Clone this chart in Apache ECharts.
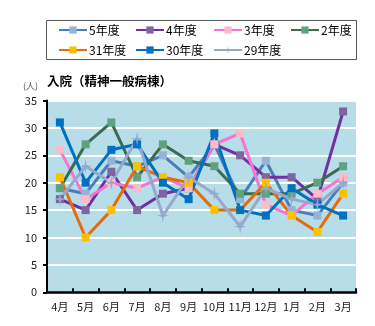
<!DOCTYPE html>
<html>
<head>
<meta charset="utf-8">
<style>
  html, body { margin: 0; padding: 0; background: #ffffff; }
  #chart { width: 375px; height: 326px; }
</style>
<script src="https://cdn.jsdelivr.net/npm/echarts@6/dist/echarts.min.js"></script>
</head>
<body>
<div id="chart"></div>
<script>
// Monthly inpatient counts (psychiatric general ward), one array per fiscal year
const months = ['4月', '5月', '6月', '7月', '8月', '9月', '10月', '11月', '12月', '1月', '2月', '3月'];
const yTicks = [0, 5, 10, 15, 20, 25, 30, 35];

const fy5  = [19, 18, 24, 23, 25, 21, 27, 17, 24, 15, 14, 20];
const fy4  = [17, 15, 22, 15, 18, 19, 27, 25, 21, 21, 17, 33];
const fy3  = [26, 17, 20, 19, 21, 19, 27, 29, 16, 14, 18, 21];
const fy2  = [19, 27, 31, 21, 27, 24, 23, 18, 18, 18, 20, 23];
const fy31 = [21, 10, 15, 23, 21, 20, 15, 15, 20, 14, 11, 18];
const fy30 = [31, 20, 26, 27, 20, 17, 29, 15, 14, 19, 16, 14];
const fy29 = [17, 23, 20, 28, 14, 21, 18, 12, 19, 17, 16, 20];

const seriesNames = ['5年度', '4年度', '3年度', '2年度', '31年度', '30年度', '29年度'];
const seriesData = [fy5, fy4, fy3, fy2, fy31, fy30, fy29];

const lineColors   = ['#4a7ebb', '#7030a0', '#f574d0', '#3d6b4f', '#e46c0a', '#0070c0', '#94a8d0'];
const markerColors = ['#95b3d7', '#8064a2', '#ffb9c8', '#5fa27e', '#ffc000', '#0070c0', '#94a8d0'];
const starPath = 'path://M0,-10 L1.6,-1.6 L10,0 L1.6,1.6 L0,10 L-1.6,1.6 L-10,0 L-1.6,-1.6 Z';

const FONT = "'Noto Sans CJK JP', 'Noto Sans', sans-serif";

const series = seriesNames.map((name, i) => ({
  name: name,
  type: 'line',
  data: seriesData[i],
  symbol: i === 6 ? starPath : 'rect',
  symbolSize: i === 6 ? [12, 15] : 8,
  lineStyle: { color: lineColors[i], width: 3 },
  itemStyle: { color: markerColors[i], borderWidth: 0 },
  animation: false
}));

// Legend laid out in fixed columns, four per row
const legendCols = [58, 135, 213, 290];
const legends = seriesNames.map((name, i) => ({
  data: [name],
  left: legendCols[i % 4],
  top: i < 4 ? 24 : 44,
  itemWidth: 28,
  itemHeight: 9,
  itemGap: 0,
  padding: 0,
  selectedMode: false,
  textStyle: { fontFamily: FONT, fontSize: 12, color: '#000000', padding: [0, 0, 0, -3] }
}));

const chart = echarts.init(document.getElementById('chart'), null, { renderer: 'canvas' });
chart.setOption({
  animation: false,
  legend: legends,
  title: {
    text: '入院（精神一般病棟）',
    left: 42,
    top: 70,
    textStyle: { fontFamily: FONT, fontSize: 12.5, fontWeight: 'bold', color: '#000000' }
  },
  graphic: [
    {
      type: 'rect',
      shape: { x: 46.5, y: 20.5, width: 310, height: 39 },
      style: { fill: 'none', stroke: '#595959', lineWidth: 1 }
    },
    {
      type: 'text',
      left: 23,
      top: 81,
      style: { text: '(人)', font: "9px 'Noto Sans CJK JP'", fill: '#595959' }
    }
  ],
  grid: {
    left: 47,
    top: 100.5,
    width: 309,
    height: 191.8,
    show: true,
    backgroundColor: '#b7dde8',
    borderWidth: 0
  },
  xAxis: {
    type: 'category',
    data: months,
    boundaryGap: true,
    axisLine: { lineStyle: { color: '#000000', width: 2.5 } },
    axisTick: { show: true, inside: true, length: 4, lineStyle: { color: '#000000', width: 2 } },
    axisLabel: { fontFamily: FONT, fontSize: 11, color: '#1a1a1a', margin: 9, interval: 0 }
  },
  yAxis: {
    type: 'value',
    min: yTicks[0],
    max: yTicks[yTicks.length - 1],
    interval: yTicks[1] - yTicks[0],
    axisLine: { show: true, lineStyle: { color: '#000000', width: 2 } },
    axisTick: { show: true, length: 4, lineStyle: { color: '#000000', width: 2 } },
    axisLabel: { fontFamily: FONT, fontSize: 11, color: '#1a1a1a', margin: 10 },
    splitLine: { show: true, lineStyle: { color: '#ffffff', width: 2 } }
  },
  series: series
});
</script>
</body>
</html>
